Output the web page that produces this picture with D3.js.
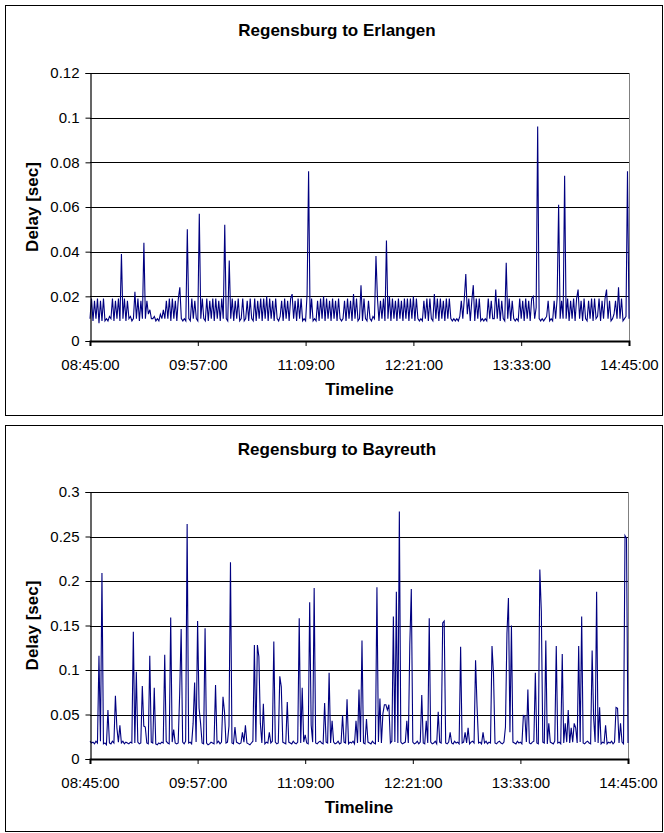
<!DOCTYPE html>
<html>
<head>
<meta charset="utf-8">
<script src="https://cdn.jsdelivr.net/npm/d3@7/dist/d3.min.js"></script>
<style>
html,body{margin:0;padding:0;background:#fff;}
svg{display:block;font-family:"Liberation Sans",Arial,sans-serif;}
</style>
</head>
<body>
<svg id="chart" width="664" height="833"></svg>
<script>
// ---- data (one value per minute starting 08:45:00) ----
const startTime = "08:45:00";
const xTickLabels = ["08:45:00","09:57:00","11:09:00","12:21:00","13:33:00","14:45:00"];

const erlangenTitle = "Regensburg to Erlangen";
const erlangenTicks = [0,0.02,0.04,0.06,0.08,0.1,0.12];
const erlangenDelay = [
0.010,0.019,0.009,0.018,0.010,0.019,0.008,0.018,0.009,0.019,
0.009,0.010,0.009,0.011,0.010,0.019,0.009,0.018,0.010,0.019,
0.009,0.039,0.010,0.019,0.009,0.018,0.010,0.011,0.009,0.010,
0.022,0.010,0.019,0.009,0.018,0.010,0.044,0.010,0.018,0.012,
0.014,0.010,0.010,0.011,0.009,0.010,0.009,0.012,0.010,0.014,
0.010,0.018,0.010,0.019,0.009,0.019,0.010,0.018,0.009,0.019,
0.024,0.010,0.009,0.010,0.009,0.050,0.010,0.009,0.019,0.010,
0.018,0.010,0.009,0.057,0.010,0.019,0.010,0.009,0.019,0.009,
0.018,0.010,0.019,0.009,0.019,0.010,0.018,0.009,0.019,0.010,
0.052,0.010,0.009,0.036,0.010,0.019,0.009,0.018,0.010,0.019,
0.009,0.010,0.019,0.009,0.010,0.018,0.009,0.019,0.010,0.009,
0.019,0.009,0.018,0.010,0.019,0.009,0.019,0.010,0.020,0.009,
0.019,0.010,0.018,0.009,0.019,0.010,0.009,0.011,0.018,0.009,
0.019,0.010,0.018,0.009,0.019,0.021,0.010,0.018,0.009,0.019,
0.010,0.019,0.009,0.010,0.009,0.021,0.076,0.010,0.019,0.009,
0.010,0.009,0.018,0.009,0.019,0.010,0.020,0.009,0.019,0.010,
0.018,0.009,0.019,0.010,0.018,0.009,0.019,0.010,0.009,0.010,
0.018,0.009,0.019,0.010,0.018,0.009,0.021,0.010,0.019,0.009,
0.010,0.025,0.009,0.019,0.010,0.009,0.018,0.010,0.009,0.011,
0.010,0.038,0.019,0.009,0.018,0.010,0.019,0.009,0.045,0.010,
0.020,0.009,0.019,0.010,0.018,0.009,0.019,0.010,0.018,0.009,
0.019,0.010,0.019,0.009,0.019,0.010,0.020,0.009,0.019,0.010,
0.009,0.010,0.009,0.018,0.010,0.019,0.009,0.019,0.010,0.009,
0.021,0.010,0.019,0.009,0.019,0.010,0.018,0.009,0.019,0.010,
0.019,0.010,0.009,0.010,0.009,0.010,0.009,0.011,0.018,0.010,
0.019,0.030,0.012,0.019,0.009,0.018,0.025,0.009,0.019,0.010,
0.019,0.009,0.010,0.009,0.010,0.009,0.019,0.010,0.018,0.010,
0.010,0.023,0.010,0.019,0.009,0.018,0.010,0.009,0.035,0.010,
0.019,0.009,0.018,0.010,0.009,0.010,0.009,0.019,0.010,0.018,
0.009,0.019,0.010,0.018,0.009,0.019,0.020,0.010,0.015,0.096,
0.010,0.009,0.010,0.009,0.010,0.011,0.018,0.009,0.010,0.009,
0.018,0.010,0.019,0.061,0.010,0.018,0.010,0.074,0.010,0.019,
0.009,0.018,0.010,0.019,0.009,0.019,0.023,0.010,0.018,0.009,
0.019,0.010,0.009,0.018,0.010,0.019,0.009,0.019,0.010,0.011,
0.019,0.009,0.018,0.010,0.019,0.023,0.010,0.018,0.009,0.010,
0.012,0.018,0.010,0.024,0.010,0.019,0.009,0.010,0.011,0.076,0.010
];

const bayreuthTitle = "Regensburg to Bayreuth";
const bayreuthTicks = [0,0.05,0.1,0.15,0.2,0.25,0.3];
const bayreuthDelay = [
0.020,0.018,0.019,0.017,0.020,0.018,0.116,0.020,0.209,0.017,
0.018,0.016,0.055,0.018,0.017,0.020,0.018,0.071,0.035,0.019,
0.038,0.018,0.020,0.017,0.019,0.018,0.017,0.019,0.018,0.143,
0.018,0.098,0.019,0.017,0.018,0.082,0.037,0.036,0.018,0.017,
0.116,0.019,0.018,0.080,0.017,0.016,0.018,0.017,0.019,0.018,
0.117,0.020,0.018,0.017,0.159,0.019,0.033,0.018,0.017,0.018,
0.073,0.146,0.019,0.017,0.020,0.264,0.018,0.019,0.017,0.040,
0.086,0.019,0.155,0.057,0.040,0.018,0.017,0.147,0.018,0.016,
0.017,0.019,0.018,0.017,0.083,0.018,0.020,0.017,0.019,0.070,
0.053,0.018,0.019,0.037,0.221,0.018,0.017,0.036,0.019,0.018,
0.017,0.018,0.030,0.019,0.038,0.018,0.017,0.016,0.018,0.020,
0.128,0.019,0.128,0.115,0.040,0.018,0.062,0.017,0.019,0.018,
0.030,0.018,0.020,0.132,0.019,0.017,0.018,0.093,0.081,0.019,
0.018,0.017,0.064,0.019,0.018,0.017,0.020,0.018,0.017,0.019,
0.158,0.018,0.080,0.019,0.027,0.018,0.017,0.176,0.038,0.019,
0.192,0.018,0.017,0.019,0.020,0.018,0.017,0.063,0.019,0.018,
0.097,0.018,0.043,0.019,0.017,0.018,0.020,0.017,0.018,0.049,
0.019,0.018,0.067,0.017,0.019,0.018,0.020,0.017,0.043,0.018,
0.078,0.019,0.133,0.018,0.017,0.045,0.019,0.018,0.017,0.020,
0.018,0.017,0.193,0.019,0.068,0.018,0.051,0.061,0.061,0.055,
0.061,0.018,0.020,0.160,0.019,0.188,0.018,0.278,0.019,0.017,
0.018,0.019,0.043,0.018,0.129,0.191,0.019,0.017,0.018,0.020,
0.017,0.019,0.072,0.018,0.017,0.043,0.018,0.158,0.019,0.017,
0.018,0.020,0.017,0.053,0.019,0.018,0.153,0.155,0.018,0.017,
0.019,0.030,0.018,0.017,0.020,0.018,0.019,0.017,0.126,0.018,
0.019,0.030,0.018,0.035,0.017,0.019,0.020,0.018,0.111,0.059,
0.018,0.019,0.017,0.030,0.018,0.020,0.017,0.019,0.018,0.127,
0.096,0.018,0.017,0.019,0.020,0.018,0.017,0.019,0.036,0.141,
0.181,0.030,0.150,0.019,0.018,0.017,0.020,0.018,0.019,0.017,
0.049,0.048,0.019,0.078,0.018,0.017,0.019,0.020,0.097,0.018,
0.017,0.213,0.166,0.019,0.018,0.133,0.017,0.040,0.019,0.018,
0.017,0.020,0.127,0.018,0.019,0.017,0.118,0.018,0.040,0.019,
0.055,0.018,0.035,0.019,0.040,0.035,0.018,0.127,0.019,0.160,
0.018,0.017,0.019,0.020,0.018,0.017,0.122,0.046,0.019,0.188,
0.018,0.058,0.017,0.019,0.018,0.038,0.017,0.019,0.018,0.020,
0.017,0.019,0.058,0.057,0.018,0.040,0.019,0.017,0.251,0.248,0.018
];

const xAxisTitle = "Timeline";
const yAxisTitle = "Delay [sec]";

// ---- helpers ----
function toMin(s){ const p = s.split(":").map(Number); return p[0]*60+p[1]+p[2]/60; }
const t0 = toMin(startTime);
const tickMinutes = xTickLabels.map(l => toMin(l) - t0);

const svg = d3.select("#chart");
const LINE = "#000080";

function panel(cfg){
  const g = svg.append("g");
  // outer frame
  g.append("rect").attr("x",cfg.frame[0]).attr("y",cfg.frame[1])
    .attr("width",cfg.frame[2]).attr("height",cfg.frame[3])
    .attr("fill","#fff").attr("stroke","#000").attr("stroke-width",1);

  const x = d3.scaleLinear().domain([0, tickMinutes[tickMinutes.length-1]]).range([cfg.left, cfg.right]);
  const y = d3.scaleLinear().domain([0, cfg.ticks[cfg.ticks.length-1]]).range([cfg.bottom, cfg.top]);

  // gridlines
  g.append("g").selectAll("line").data(cfg.ticks.slice(1)).join("line")
    .attr("x1",cfg.left).attr("x2",cfg.right)
    .attr("y1",d=>Math.round(y(d))+0.5).attr("y2",d=>Math.round(y(d))+0.5)
    .attr("stroke","#000").attr("stroke-width",1);
  // right border of plot area
  g.append("line").attr("x1",cfg.right+0.5).attr("x2",cfg.right+0.5)
    .attr("y1",cfg.top).attr("y2",cfg.bottom).attr("stroke","#808080").attr("stroke-width",1);

  // series
  const line = d3.line().x((d,i)=>x(i)).y(d=>y(d));
  g.append("path").datum(cfg.values).attr("d",line)
    .attr("fill","none").attr("stroke",LINE).attr("stroke-width",1.1)
    .attr("stroke-linejoin","miter");

  // y axis
  const yAxis = d3.axisLeft(y).tickValues(cfg.ticks).tickSize(5).tickPadding(6)
    .tickFormat(d => String(+d.toFixed(3)));
  const ya = g.append("g").attr("transform",`translate(${cfg.left+0.5},0)`).call(yAxis);
  ya.select(".domain").attr("stroke","#000").attr("stroke-width",1.2);
  ya.selectAll(".tick line").attr("stroke","#000");
  ya.selectAll(".tick text").attr("font-size",15).attr("fill","#000")
    .attr("font-family","Liberation Sans, Arial, sans-serif");

  // x axis
  const xAxis = d3.axisBottom(x).tickValues(tickMinutes).tickSize(5).tickPadding(13)
    .tickFormat((d,i)=>xTickLabels[i]);
  const xa = g.append("g").attr("transform",`translate(0,${cfg.bottom})`).call(xAxis);
  xa.select(".domain").attr("stroke","#000").attr("stroke-width",2);
  xa.selectAll(".tick line").attr("stroke","#000");
  xa.selectAll(".tick text").attr("font-size",15).attr("fill","#000")
    .attr("font-family","Liberation Sans, Arial, sans-serif");

  // titles
  g.append("text").attr("x",cfg.titleX).attr("y",cfg.titleY).attr("text-anchor","middle")
    .attr("font-size",17).attr("font-weight","bold").text(cfg.title);
  g.append("text").attr("x",(cfg.left+cfg.right)/2).attr("y",cfg.bottom+54).attr("text-anchor","middle")
    .attr("font-size",17).attr("font-weight","bold").text(xAxisTitle);
  g.append("text").attr("transform",`translate(38,${(cfg.top+cfg.bottom)/2}) rotate(-90)`)
    .attr("text-anchor","middle").attr("font-size",17).attr("font-weight","bold").text(yAxisTitle);
}

panel({frame:[5.5,5.5,657,410], left:90, right:629, top:73, bottom:341,
       ticks:erlangenTicks, values:erlangenDelay, title:erlangenTitle, titleX:337, titleY:36});
panel({frame:[5.5,425.5,657,406], left:90, right:628, top:492, bottom:759,
       ticks:bayreuthTicks, values:bayreuthDelay, title:bayreuthTitle, titleX:337, titleY:455});
</script>
</body>
</html>
